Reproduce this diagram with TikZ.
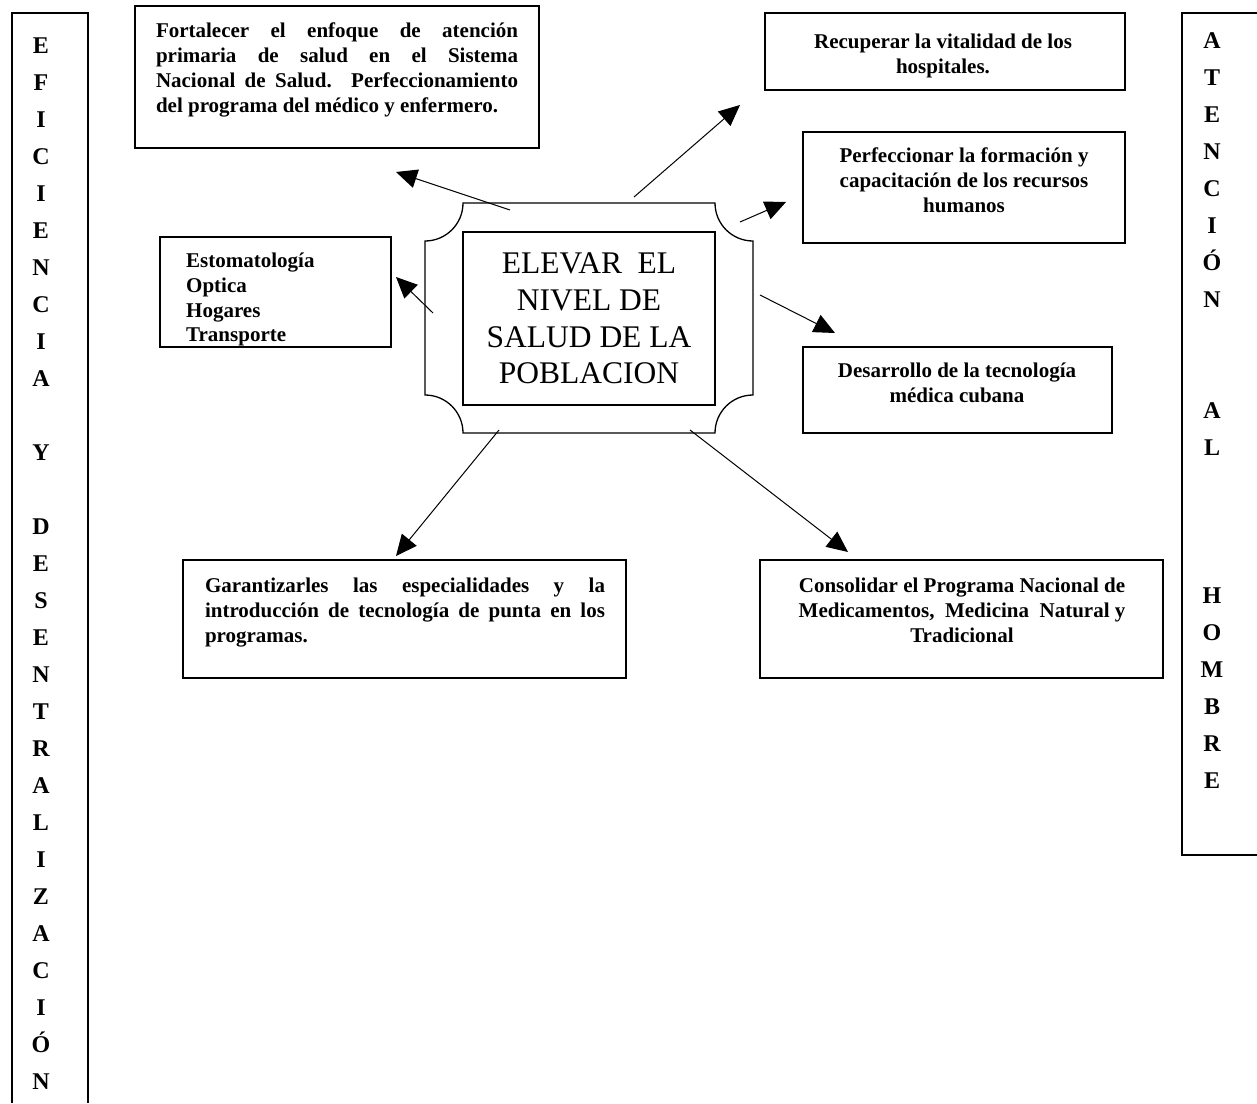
\documentclass[tikz,border=0pt]{standalone}
\usepackage{fontspec}
\setmainfont{Liberation Serif}
\usetikzlibrary{arrows.meta}
\begin{document}
\begin{tikzpicture}[x=1pt,y=-1pt,
  bx/.style={draw=black, line width=1.5pt, inner sep=0pt},
  txt/.style={inner sep=0pt, font=\bfseries\fontsize{21}{24.8}\selectfont},
  col/.style={inner sep=0pt, align=center, font=\bfseries\fontsize{24}{37}\selectfont},
  arr/.style={draw=black, line width=1pt, -{Triangle[length=21pt,width=19pt]}},
  edge/.style={draw=black, line width=1.5pt}
]
\useasboundingbox (0,0) rectangle (1257,1103);

% side columns
\draw[edge] (12,1103) -- (12,13) -- (88,13) -- (88,1103);
\node[col, anchor=north] (left) at (41,37.1) {E\\F\\I\\C\\I\\E\\N\\C\\I\\A\\[37pt]Y\\[37pt]D\\E\\S\\E\\N\\T\\R\\A\\L\\I\\Z\\A\\C\\I\\Ó\\N};
\draw[edge] (1257,13) -- (1182,13) -- (1182,855) -- (1257,855);
\node[col, anchor=north] (right) at (1212,32.1) {A\\T\\E\\N\\C\\I\\Ó\\N\\[74pt]A\\L\\[111pt]H\\O\\M\\B\\R\\E};

% central plaque
\draw[edge, line width=1.3pt] (463,203) -- (715,203)
  .. controls (715,224) and (732,241) .. (753,241) -- (753,395)
  .. controls (732,395) and (715,412) .. (715,433) -- (463,433)
  .. controls (463,412) and (446,395) .. (425,395) -- (425,241)
  .. controls (446,241) and (463,224) .. (463,203) -- cycle;
\node[draw=black, line width=1.2pt, minimum width=252pt, minimum height=173pt, inner sep=0pt,
  align=center, font=\fontsize{31.5}{36.7}\selectfont] (c) at (589,318.5)
  {ELEVAR~ EL\\NIVEL DE\\SALUD DE LA\\POBLACION};

% boxes
\node[bx, minimum width=404pt, minimum height=142pt] (b1) at (337,77) {};
\node[txt, text width=362pt, align=justify, anchor=north] (t1) at (337,22.8)
  {Fortalecer el enfoque de atención\linebreak primaria de salud en el Sistema\linebreak Nacional de Salud. Perfeccionamiento\linebreak del programa del médico y enfermero.};

\node[bx, minimum width=360pt, minimum height=77pt] (b2) at (945,51.5) {};
\node[txt, align=center, anchor=north] (t2) at (943,33.8) {Recuperar la vitalidad de los\\hospitales.};

\node[bx, minimum width=322pt, minimum height=111pt] (b3) at (964,187.5) {};
\node[txt, align=center, anchor=north] (t3) at (964,147.8) {Perfeccionar la formación y\\capacitación de los recursos\\humanos};

\begin{scope}
\clip (160,237) rectangle (391,347);
\node[txt, align=left, anchor=north west] (t4) at (186,252.8) {Estomatología\\Optica\\Hogares\\Transporte};
\end{scope}
\node[bx, minimum width=231pt, minimum height=110pt] (b4) at (275.5,292) {};

\node[bx, minimum width=309pt, minimum height=86pt] (b5) at (957.5,390) {};
\node[txt, align=center, anchor=north] (t5) at (957,362.8) {Desarrollo de la tecnología\\médica cubana};

\node[bx, minimum width=443pt, minimum height=118pt] (b6) at (404.5,619) {};
\node[txt, text width=400pt, align=justify, anchor=north] (t6) at (405,577.8)
  {Garantizarles las especialidades y la\linebreak introducción de tecnología de punta en los\linebreak programas.};

\node[bx, minimum width=403pt, minimum height=118pt] (b7) at (961.5,619) {};
\node[txt, align=center, anchor=north] (t7) at (962,577.8) {Consolidar el Programa Nacional de\\Medicamentos,~ Medicina~ Natural y\\Tradicional};

% arrows
\coordinate (s1) at (510,210); \coordinate (e1) at (396,172);
\coordinate (s2) at (433,313); \coordinate (e2) at (396,277);
\coordinate (s3) at (634,197); \coordinate (e3) at (740,105);
\coordinate (s4) at (740,222); \coordinate (e4) at (786,202);
\coordinate (s5) at (760,295); \coordinate (e5) at (835,333);
\coordinate (s6) at (499,430); \coordinate (e6) at (396,556);
\coordinate (s7) at (690,430); \coordinate (e7) at (848,552);
\foreach \i in {1,...,7} { \draw[arr] (s\i) -- (e\i); }
\end{tikzpicture}
\end{document}
